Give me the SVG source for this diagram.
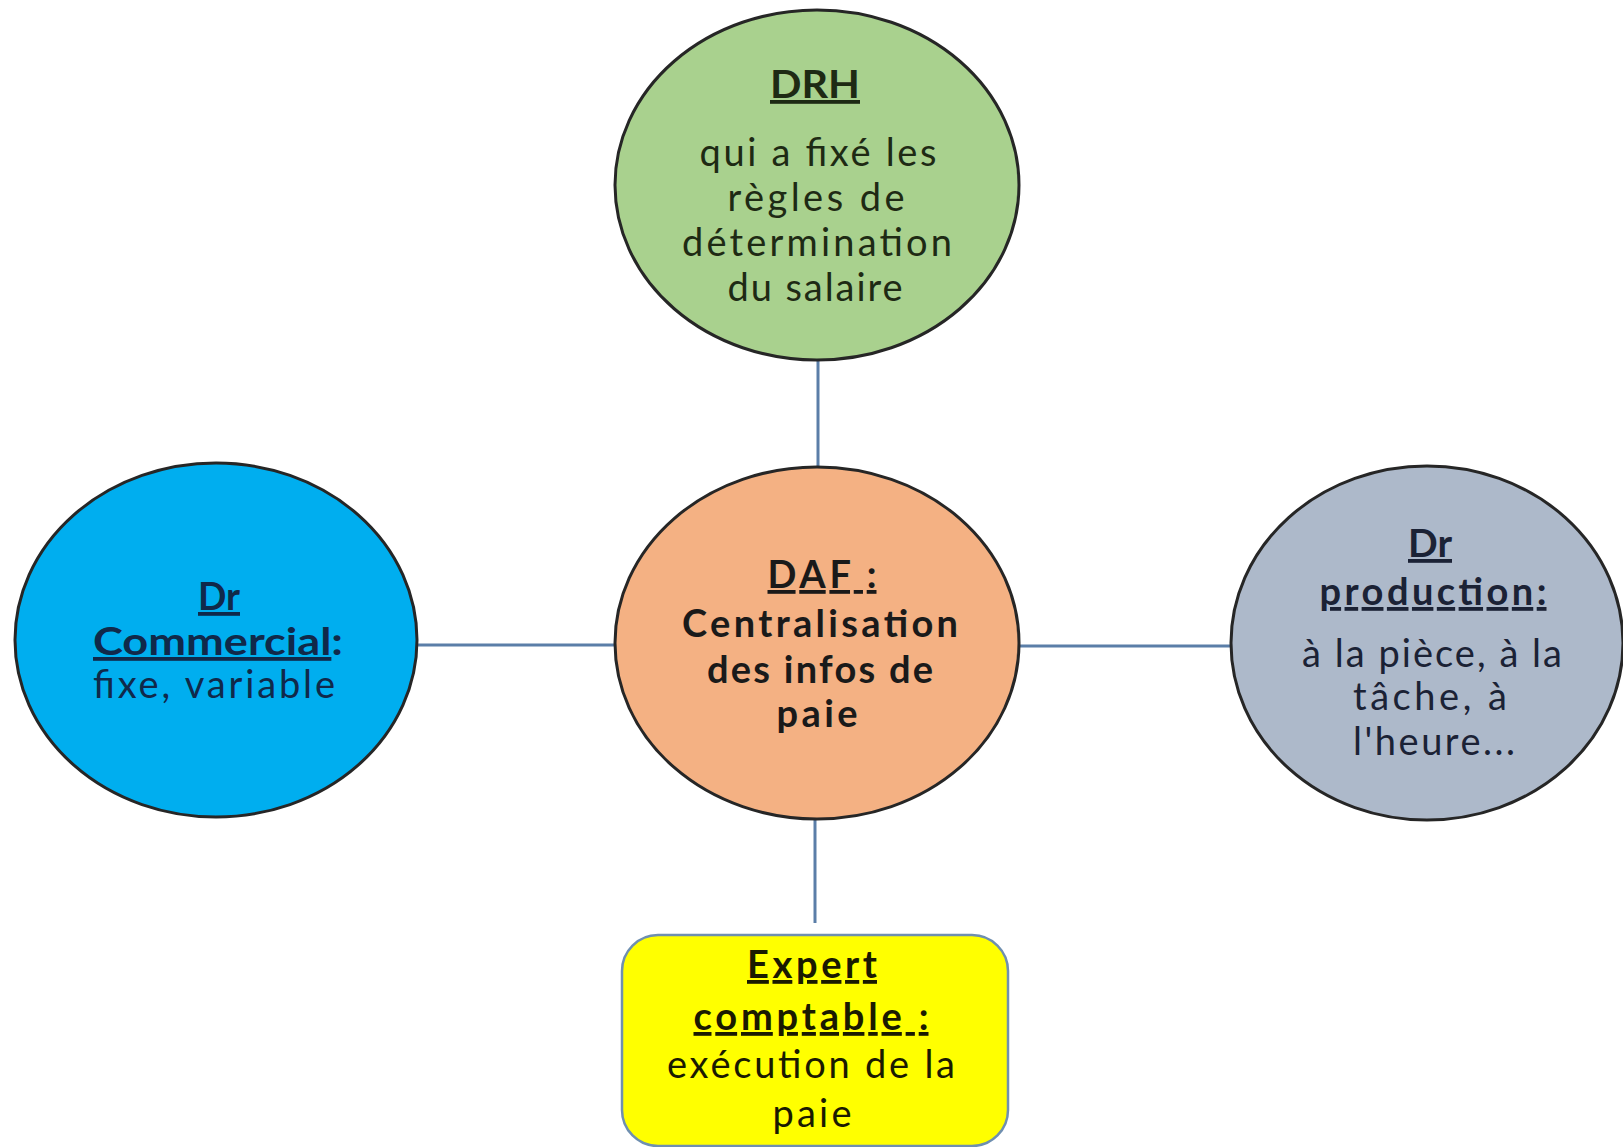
<svg xmlns="http://www.w3.org/2000/svg" width="1623" height="1147" viewBox="0 0 1623 1147">
<style>
.node{stroke:#262626;stroke-width:3}
.conn{stroke:#5b7ea8;stroke-width:3;fill:none}
text{font-family:Lato,"Open Sans","Liberation Sans",sans-serif;font-size:38px;text-anchor:middle}
.b{font-weight:bold}
.u{text-decoration:underline}
</style>
<rect width="1623" height="1147" fill="#ffffff"/>
<g id="connectors">
<line class="conn" x1="818" y1="360" x2="818" y2="467"/>
<line class="conn" x1="417" y1="645" x2="615" y2="645"/>
<line class="conn" x1="1019" y1="646" x2="1232" y2="646"/>
<line class="conn" x1="815" y1="820" x2="815" y2="923"/>
</g>
<g id="drh">
<ellipse class="node" cx="817" cy="185" rx="202" ry="175" fill="#a9d18e"/>
<g fill="#1e2a14">
<text x="815" y="98" class="b u" textLength="90" lengthAdjust="spacingAndGlyphs">DRH</text>
<text x="818" y="166" textLength="237" lengthAdjust="spacing">qui a fixé les</text>
<text x="816" y="211" textLength="177" lengthAdjust="spacing">règles de</text>
<text x="817" y="256" textLength="270" lengthAdjust="spacing">détermination</text>
<text x="815" y="301" textLength="175" lengthAdjust="spacing">du salaire</text>
</g>
</g>
<g id="commercial">
<ellipse class="node" cx="216" cy="640" rx="201" ry="177" fill="#00aeef"/>
<g fill="#10294a">
<text x="219" y="610" class="b u" textLength="42" lengthAdjust="spacingAndGlyphs">Dr</text>
<text x="218" y="655" class="b" textLength="250" lengthAdjust="spacingAndGlyphs"><tspan class="u">Commercial</tspan>:</text>
<text x="214" y="698" textLength="242" lengthAdjust="spacing">fixe, variable</text>
</g>
</g>
<g id="daf">
<ellipse class="node" cx="817" cy="643" rx="202" ry="176" fill="#f4b183"/>
<g fill="#1a1a1a">
<text x="822" y="588" class="b u" textLength="109" lengthAdjust="spacing">DAF :</text>
<text x="820" y="637" class="b" textLength="276" lengthAdjust="spacing">Centralisation</text>
<text x="820" y="683" class="b" textLength="226" lengthAdjust="spacing">des infos de</text>
<text x="817" y="727" class="b" textLength="81" lengthAdjust="spacing">paie</text>
</g>
</g>
<g id="production">
<ellipse class="node" cx="1427" cy="643" rx="196" ry="177" fill="#adb9ca"/>
<g fill="#1b2235">
<text x="1430" y="557" class="b u" textLength="44" lengthAdjust="spacingAndGlyphs">Dr</text>
<text x="1433" y="605" class="b u" textLength="227" lengthAdjust="spacing">production:</text>
<text x="1432" y="667" textLength="260" lengthAdjust="spacing">à la pièce, à la</text>
<text x="1430" y="710" textLength="154" lengthAdjust="spacing">tâche, à</text>
<text x="1434" y="755" textLength="162" lengthAdjust="spacing">l'heure...</text>
</g>
</g>
<g id="expert">
<rect x="622" y="935" width="386" height="211" rx="36" ry="36" fill="#ffff00" stroke="#6f8fb0" stroke-width="2.5"/>
<g fill="#1a1a00">
<text x="812" y="978" class="b u" textLength="130" lengthAdjust="spacing">Expert</text>
<text x="811" y="1030" class="b u" textLength="235" lengthAdjust="spacing">comptable :</text>
<text x="811" y="1078" textLength="288" lengthAdjust="spacing">exécution de la</text>
<text x="812" y="1127" textLength="79" lengthAdjust="spacing">paie</text>
</g>
</g>
</svg>
